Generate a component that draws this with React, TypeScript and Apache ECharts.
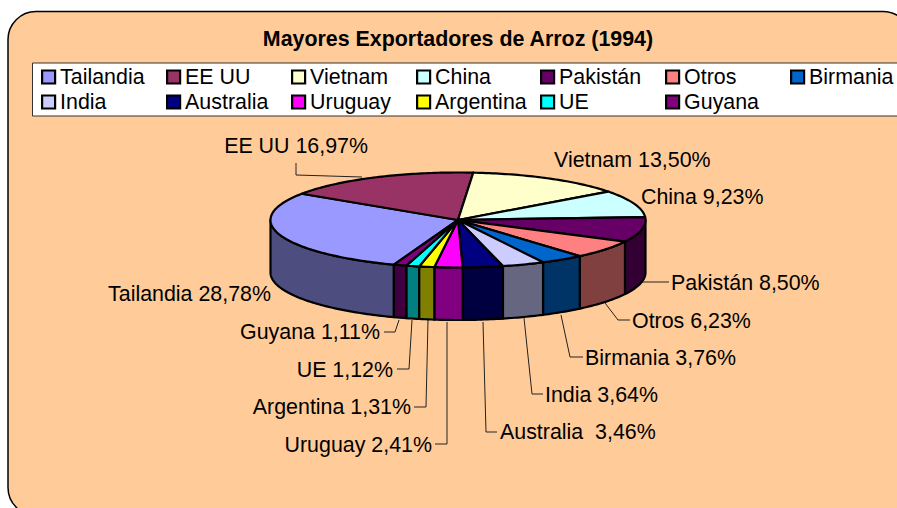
import React, { useEffect, useRef } from "react";
import * as echarts from "echarts";

const titleText = "Mayores Exportadores de Arroz (1994)";
const countries = ["Tailandia", "EE UU", "Vietnam", "China", "Pakistán", "Otros", "Birmania", "India", "Australia", "Uruguay", "Argentina", "UE", "Guyana"];
const shares = [28.78, 16.97, 13.5, 9.23, 8.5, 6.23, 3.76, 3.64, 3.46, 2.41, 1.31, 1.12, 1.11];
const sliceColors = ["#9999FF", "#993366", "#FFFFCC", "#CCFFFF", "#660066", "#FF8080", "#0066CC", "#CCCCFF", "#000080", "#FF00FF", "#FFFF00", "#00FFFF", "#800080"];
const labelTexts = ["Tailandia 28,78%", "EE UU 16,97%", "Vietnam 13,50%", "China 9,23%", "Pakistán 8,50%", "Otros 6,23%", "Birmania 3,76%", "India 3,64%", "Australia  3,46%", "Uruguay 2,41%", "Argentina 1,31%", "UE 1,12%", "Guyana 1,11%"];

// Layout only: [anchor x, center y, text align]
const labelPlaces: [number, number, string][] = [
  [271, 293.5, "right"], [368, 145.5, "right"], [554, 159.5, "left"], [641, 196.5, "left"],
  [671, 282.5, "left"], [632, 320.5, "left"], [585, 357.5, "left"], [545, 394.5, "left"],
  [500, 431.5, "left"], [432, 444.5, "right"], [411, 406.5, "right"], [393, 369.5, "right"], [380, 331.5, "right"],
];
const leaderLines: number[][][] = [
  [[296, 163], [296, 175], [362, 177]],
  [[642, 282], [669, 282]],
  [[605, 303], [618, 320], [630, 320]],
  [[561, 315], [570, 357], [583, 357]],
  [[524, 318], [532, 394], [543, 394]],
  [[483, 322], [486, 432], [497, 432]],
  [[447, 322], [447, 444], [435, 444]],
  [[428, 320], [426, 407], [414, 407]],
  [[412, 320], [409, 369], [397, 369]],
  [[399, 320], [395, 332], [384, 332]],
];
const legendColumns = [[41, 0, 7], [166, 1, 8], [291, 2, 9], [416, 3, 10], [540, 4, 11], [665, 5, 12], [790, 6]];

const CX = 458, CY = 220, RX = 187.5, RY = 47.5, DEPTH = 52.5, START = 200;
const FONT = '"Liberation Sans", Arial, sans-serif';
const TEXT_SIZE = 21.4;

const halve = (hex: string) => {
  const n = parseInt(hex.slice(1), 16);
  const c = [(n >> 16) & 255, (n >> 8) & 255, n & 255].map((v) => Math.round(v / 2));
  return `rgb(${c[0]},${c[1]},${c[2]})`;
};

const rimPoint = (deg: number, dy = 0) => {
  const t = (deg * Math.PI) / 180;
  return [CX + RX * Math.sin(t), CY - RY * Math.cos(t) + dy];
};

const arc = (from: number, to: number, dy = 0) => {
  const pts: number[][] = [];
  const n = Math.max(2, Math.ceil(to - from));
  for (let i = 0; i <= n; i++) pts.push(rimPoint(from + ((to - from) * i) / n, dy));
  return pts;
};

const total = shares.reduce((a, b) => a + b, 0);

const buildSeries = () => {
  let angle = START;
  return countries.map((name, i) => {
    const from = angle;
    const to = angle + (shares[i] / total) * 360;
    angle = to;
    return {
      type: "custom",
      name,
      coordinateSystem: "none",
      silent: true,
      itemStyle: { color: sliceColors[i] },
      data: [[from, to]],
      renderItem: (_: any, api: any) => {
        const a = api.value(0);
        const b = api.value(1);
        const children: any[] = [];
        // front wall: part of the slice within 90..270 (also +360)
        [[90, 270], [450, 630]].forEach(([lo, hi]) => {
          const wa = Math.max(a, lo);
          const wb = Math.min(b, hi);
          if (wb > wa) {
            children.push({
              type: "polygon",
              z2: 1,
              shape: { points: [...arc(wa, wb), ...arc(wa, wb, DEPTH).reverse()] },
              style: { fill: halve(sliceColors[i]), stroke: "#000", lineWidth: 2.2, lineJoin: "round" },
            });
          }
        });
        children.push({
          type: "polygon",
          z2: 2,
          shape: { points: [[CX, CY], ...arc(a, b)] },
          style: { fill: sliceColors[i], stroke: "#000", lineWidth: 2.2, lineJoin: "round" },
        });
        return { type: "group", children };
      },
    };
  });
};

export default function App() {
  const ref = useRef<HTMLDivElement>(null);
  useEffect(() => {
    document.body.style.margin = "0";
    const chart = echarts.init(ref.current!, undefined, { renderer: "svg" });
    chart.setOption({
      animation: false,
      backgroundColor: "#fff",
      legend: legendColumns.map(([left, ...idx]) => ({
        left,
        top: 64.5,
        padding: 0,
        orient: "vertical",
        itemWidth: 13,
        itemHeight: 13,
        itemGap: 0,
        selectedMode: false,
        icon: "rect",
        itemStyle: { borderColor: "#000", borderWidth: 2.2 },
        textStyle: { fontFamily: FONT, fontSize: TEXT_SIZE, color: "#000", lineHeight: 25, padding: [0, 0, 0, 0] },
        data: idx.map((k) => countries[k]),
      })),
      series: buildSeries(),
      graphic: [
        {
          type: "rect",
          z: -10,
          shape: { x: 8, y: 11.5, width: 903, height: 504, r: 28 },
          style: { fill: "#FFCC99", stroke: "#000", lineWidth: 1.5 },
        },
        {
          type: "rect",
          z: -9,
          shape: { x: 32.5, y: 63, width: 870, height: 53 },
          style: { fill: "#fff", stroke: "#333", lineWidth: 1 },
        },
        {
          type: "text",
          z: 10,
          style: { text: titleText, x: 458, y: 39, textAlign: "center", textVerticalAlign: "middle", fontFamily: FONT, fontWeight: "bold", fontSize: TEXT_SIZE, fill: "#000" },
        },
        ...labelTexts.map((text, i) => ({
          type: "text",
          z: 10,
          style: { text, x: labelPlaces[i][0], y: labelPlaces[i][1], textAlign: labelPlaces[i][2], textVerticalAlign: "middle", fontFamily: FONT, fontSize: TEXT_SIZE, fill: "#000" },
        })),
        ...leaderLines.map((points) => ({
          type: "polyline",
          z: 1,
          shape: { points },
          style: { fill: "none", stroke: "#222", lineWidth: 1 },
        })),
      ],
    });
    return () => chart.dispose();
  }, []);
  return <div ref={ref} style={{ width: 897, height: 508 }} />;
}
